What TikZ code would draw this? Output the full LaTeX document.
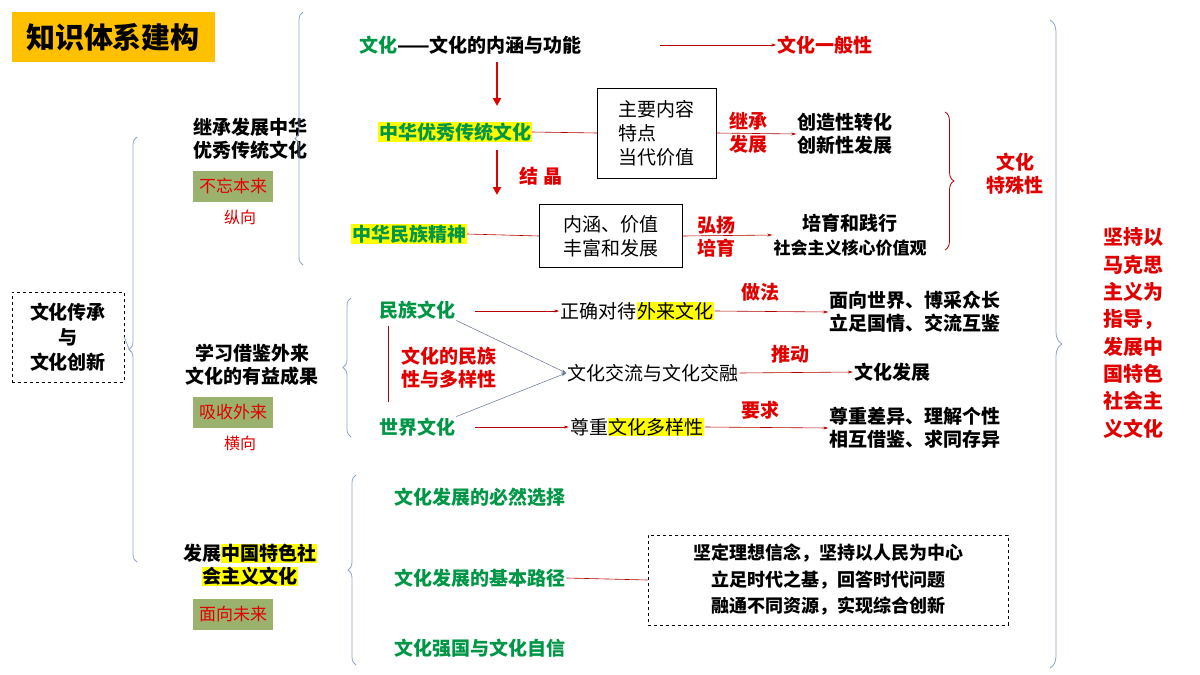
\documentclass[tikz,border=0pt]{standalone}
\usepackage{fontspec}
\setmainfont{Noto Sans CJK SC}
\usetikzlibrary{decorations.pathreplacing,arrows.meta}
\definecolor{gr}{RGB}{0,150,70}
\definecolor{rd}{RGB}{225,0,0}
\definecolor{br}{RGB}{140,165,200}
\definecolor{og}{RGB}{255,192,0}
\definecolor{ol}{RGB}{155,178,110}
\definecolor{hy}{RGB}{255,255,0}
\newcommand{\hl}[1]{{\setlength{\fboxsep}{0.5pt}\colorbox{hy}{#1}}}
\begin{document}
\begin{tikzpicture}[x=1pt,y=-1pt,
  t/.style={inner sep=1pt,font=\fontsize{19}{23}\selectfont\bfseries,align=center},
  tn/.style={inner sep=1pt,font=\fontsize{19}{24}\selectfont,align=center},
  g/.style={t,text=gr},
  r/.style={t,text=rd},
  hlt/.style={fill=hy},
  badge/.style={fill=ol,minimum width=80pt,minimum height=31pt,inner sep=0pt,text=rd,font=\fontsize{17}{20}\selectfont},
  bra/.style={draw=br,line width=0.8pt,decorate,decoration={brace,amplitude=8pt}},
  ln/.style={draw=rd!80!black,line width=0.6pt},
  ar/.style={ln,-{Stealth[length=5pt,width=3pt]}},
  big/.style={draw=rd,line width=2pt,-{Triangle[length=8pt,width=8pt]}}]
\useasboundingbox (0,0) rectangle (1200,675);
% title
\node[fill=og,minimum width=203pt,minimum height=50pt,inner sep=0pt,font=\fontsize{29}{32}\selectfont\bfseries] (title) at (113,37) {知识体系建构};
% root
\node[draw,dashed,minimum width=112pt,minimum height=90pt,t,font=\fontsize{19}{25}\selectfont\bfseries] (root) at (68,337) {文化传承\\与\\文化创新};
\draw[bra] (137,562) -- (137,137);
\draw[draw=br,line width=0.8pt] (root.east) -- (129,349);
% branches
\node[t] (b1) at (250,139) {继承发展中华\\优秀传统文化};
\node[badge] (bd1) at (233,186) {不忘本来};
\node[r,font=\fontsize{16}{18}\selectfont] (z1) at (240,217) {纵向};
\node[t] (b2) at (252,365) {学习借鉴外来\\文化的有益成果};
\node[badge] (bd2) at (233,412) {吸收外来};
\node[r,font=\fontsize{16}{18}\selectfont] (z2) at (240,443) {横向};
\node[t] (b3) at (250,565) {发展\hl{中国特色社}\\\hl{会主义文化}};
\node[badge] (bd3) at (233,614) {面向未来};
% sub braces
\draw[bra] (303,265) -- (303,12);
\draw[bra] (351,437) -- (351,298);
\draw[bra] (356,665) -- (356,475);
% right brace
\draw[bra,decoration={brace,amplitude=12pt}] (1050,20) -- (1050,668);
\node[r,font=\fontsize{20}{27.3}\selectfont\bfseries] (rt) at (1133,333) {坚持以\\马克思\\主义为\\指导，\\发展中\\国特色\\社会主\\义文化};
% top section
\node[t,anchor=west] (wh) at (358,45) {\textcolor{gr}{文化}——文化的内涵与功能};
\node[r] (yb) at (825,45) {文化一般性};
\draw[ar] (660,45) -- (yb.west);
\node[g,hlt] (zh) at (455,132) {中华优秀传统文化};
\draw[big] (497,62) -- (497,106);
\node[draw,tn,align=left,minimum width=119pt,minimum height=90pt,anchor=west] (bx1) at (597,133) {主要内容\\特点\\当代价值};
\draw[ln] (zh.east) -- (bx1.west);
\node[r] (jc) at (748,133) {继承\\发展};
\node[t] (cz) at (845,134) {创造性转化\\创新性发展};
\draw[ar] (bx1.east) -- (cz.west);
\node[r] (jj) at (541,176) {结 晶};
\node[g,hlt] (mz) at (409,234) {中华民族精神};
\draw[big] (497,150) -- (497,195);
\node[draw,tn,minimum width=143pt,minimum height=63pt] (bx2) at (611,236) {内涵、价值\\丰富和发展};
\draw[ln] (mz.east) -- (bx2.west);
\node[r] (hy) at (716,237) {弘扬\\培育};
\node[t,font=\fontsize{17}{24}\selectfont\bfseries] (py) at (850,235) {\fontsize{19}{24}\selectfont 培育和践行\\社会主义核心价值观};
\draw[ar] (bx2.east) -- (py.west);
\draw[draw=rd!80!black,line width=0.8pt,decorate,decoration={brace,amplitude=9pt}] (945,112) -- (945,250);
\node[r] (ts) at (1015,174) {文化\\特殊性};
% middle section
\node[g] (mzwh) at (417,310) {民族文化};
\node[tn] (zq) at (637,311) {正确对待\hl{外来文化}};
\draw[ar] (475,311) -- (zq.west);
\node[r] (zf) at (760,292) {做法};
\node[t] (mx) at (915,312) {面向世界、博采众长\\立足国情、交流互鉴};
\draw[ar] (zq.east) -- (mx.west);
\node[tn] (jl) at (653,373) {文化交流与文化交融};
\node[g] (sjwh) at (417,427) {世界文化};
\draw[draw=br!70!black,line width=0.5pt,-{Stealth[length=5pt,width=3pt]}] (mzwh.south east) -- (jl.west);
\draw[draw=br!70!black,line width=0.5pt,-{Stealth[length=5pt,width=3pt]}] (sjwh.north east) -- (jl.west);
\draw[ln] (mzwh.south) ++(-29,6) coordinate (v1) -- ++(0,76) coordinate (v2);
\node[r] (dy) at (449,368) {文化的民族\\性与多样性};
\node[r] (td) at (790,354) {推动};
\node[t] (fz) at (892,372) {文化发展};
\draw[ar] (jl.east) -- (fz.west);
\node[tn] (zz) at (637,427) {尊重\hl{文化多样性}};
\draw[ar] (475,427) -- (zz.west);
\node[r] (yq) at (760,410) {要求};
\node[t] (zc) at (915,428) {尊重差异、理解个性\\相互借鉴、求同存异};
\draw[ar] (zz.east) -- (zc.west);
% bottom section
\node[g] (bx) at (480,497) {文化发展的必然选择};
\node[g] (lj) at (480,578) {文化发展的基本路径};
\node[g] (zx) at (480,648) {文化强国与文化自信};
\node[draw,dashed,line width=0.8pt,t,minimum width=360pt,minimum height=90pt,font=\fontsize{18}{26.5}\selectfont\bfseries] (bx3) at (828,580) {坚定理想信念，坚持以人民为中心\\立足时代之基，回答时代问题\\融通不同资源，实现综合创新};
\draw[ln] (lj.east) -- (bx3.west);
\end{tikzpicture}
\end{document}
